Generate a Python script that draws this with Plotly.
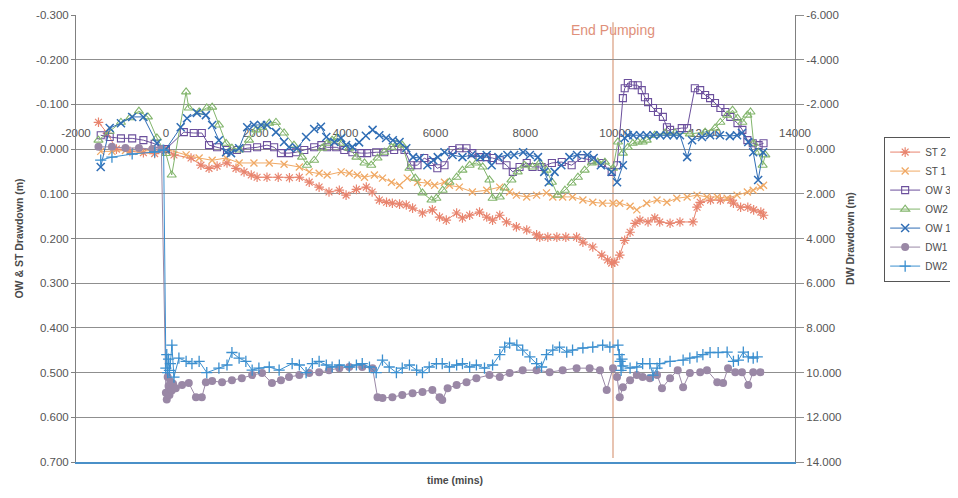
import plotly.graph_objects as go

# ---------------- data (time in minutes, drawdown in m) ----------------
ST2_T = [-1500,-1300,-1100,-800,-500,-250,0,180,560,780,960,1140,1360,1560,1740,1900,2030,2250,2500,2750,2970,3190,3410,3630,3860,4010,4240,4460,4590,4750,4910,5040,5200,5350,5490,5710,5930,6090,6240,6470,6600,6760,6980,7140,7270,7430,7580,7800,8030,8250,8320,8500,8700,8900,9140,9280,9500,9700,9830,9920,9990,10100,10210,10330,10440,10550,10730,10880,10990,11220,11440,11730,11820,11890,12120,12340,12570,12630,12790,12950,13080,13240,13300]
ST2_V = [-0.060,-0.035,0.000,0.005,0.008,0.010,0.003,0.013,0.020,0.036,0.043,0.038,0.031,0.043,0.051,0.058,0.063,0.063,0.063,0.064,0.063,0.074,0.085,0.096,0.092,0.103,0.090,0.085,0.096,0.114,0.119,0.121,0.123,0.125,0.132,0.143,0.136,0.152,0.159,0.143,0.154,0.148,0.141,0.152,0.159,0.148,0.163,0.174,0.181,0.192,0.197,0.197,0.197,0.197,0.197,0.208,0.219,0.237,0.248,0.255,0.253,0.237,0.204,0.186,0.166,0.159,0.163,0.154,0.163,0.166,0.163,0.163,0.130,0.119,0.114,0.114,0.114,0.121,0.130,0.130,0.136,0.141,0.148]

ST1_T = [-1450,-1200,-900,-600,-300,0,450,740,1030,1340,1630,1960,2300,2630,2970,3190,3410,3590,3900,4080,4260,4420,4640,4820,5020,5200,5370,5600,5820,5980,6200,6310,6530,6820,7140,7430,7650,7800,8030,8250,8470,8610,8830,9050,9280,9500,9720,9950,10100,10330,10480,10700,10930,11150,11370,11600,11820,12040,12270,12490,12710,12940,13070,13230,13300]
ST1_V = [0.005,0.005,0.003,0.005,0.003,0.000,0.013,0.020,0.025,0.020,0.031,0.031,0.031,0.034,0.040,0.051,0.054,0.058,0.051,0.054,0.058,0.063,0.058,0.065,0.074,0.081,0.065,0.074,0.076,0.081,0.074,0.081,0.085,0.096,0.092,0.085,0.096,0.103,0.107,0.103,0.098,0.107,0.107,0.107,0.114,0.119,0.121,0.121,0.121,0.128,0.136,0.121,0.114,0.119,0.110,0.107,0.103,0.107,0.107,0.110,0.103,0.096,0.092,0.085,0.081]

OW3_T = [-1450,-1250,-1000,-750,-500,-250,0,400,620,800,960,1140,1360,1580,1810,2030,2250,2410,2560,2740,2900,3080,3300,3460,3590,3790,3970,4150,4350,4480,4680,4860,5080,5310,5460,5600,5750,5910,6040,6200,6380,6530,6690,6820,6980,7140,7270,7430,7580,7720,7870,8030,8160,8360,8590,8810,9030,9250,9480,9700,9920,10040,10170,10210,10280,10390,10500,10590,10660,10730,10840,10950,11060,11150,11220,11480,11600,11770,11890,12000,12110,12220,12340,12450,12560,12720,12830,12940,13060,13190,13300]
OW3_V = [-0.031,-0.027,-0.024,-0.024,-0.020,-0.012,0.000,-0.038,-0.036,-0.036,-0.009,-0.004,0.002,0.002,-0.002,-0.004,-0.009,-0.004,0.009,0.009,0.007,0.002,-0.004,-0.009,-0.004,-0.004,0.002,0.007,0.009,0.009,0.007,0.007,0.002,0.002,0.036,0.036,0.020,0.029,0.043,0.036,0.002,-0.002,-0.002,0.009,0.018,0.018,0.020,0.025,0.036,0.051,0.040,0.031,0.040,0.040,0.031,0.029,0.036,0.020,0.025,0.031,0.051,0.036,-0.114,-0.136,-0.148,-0.143,-0.143,-0.132,-0.116,-0.105,-0.092,-0.083,-0.072,-0.049,-0.043,-0.047,-0.047,-0.136,-0.132,-0.121,-0.114,-0.103,-0.092,-0.083,-0.072,-0.058,-0.043,-0.020,-0.013,-0.009,-0.013]

OW2_T = [-1500,-1250,-1000,-800,-600,-400,-200,0,130,450,510,740,910,1030,1180,1340,1470,1630,1850,2010,2140,2300,2450,2630,2850,3030,3140,3300,3480,3590,3700,3810,3920,4080,4240,4420,4570,4710,4860,5020,5150,5260,5420,5550,5710,5910,6020,6160,6310,6470,6600,6760,6910,7050,7200,7270,7430,7540,7690,7830,7980,8160,8320,8470,8590,8720,8880,9030,9170,9320,9480,9610,9770,9950,10060,10170,10280,10390,10500,10610,10700,10880,11110,11330,11660,12000,12220,12340,12490,12610,12720,12830,12940,13010,13080,13190,13280,13340]
OW2_V = [-0.020,-0.040,-0.060,-0.070,-0.085,-0.072,-0.025,0.010,0.058,-0.128,-0.092,-0.083,-0.092,-0.094,-0.054,-0.013,-0.002,0.002,-0.020,-0.043,-0.049,-0.058,-0.060,-0.036,-0.009,0.018,0.036,0.025,-0.002,-0.013,-0.020,-0.025,-0.013,-0.002,0.018,0.031,0.036,0.020,0.007,-0.004,-0.013,-0.009,0.043,0.065,0.098,0.114,0.110,0.092,0.074,0.063,0.047,0.036,0.031,0.040,0.069,0.110,0.107,0.087,0.069,0.051,0.036,0.040,0.031,0.047,0.074,0.103,0.092,0.076,0.063,0.047,0.031,0.029,0.029,0.043,-0.016,0.009,-0.004,-0.013,-0.016,-0.016,-0.020,-0.031,-0.036,-0.036,-0.034,-0.038,-0.047,-0.060,-0.076,-0.087,-0.069,-0.060,-0.076,-0.083,-0.013,0.007,0.036,0.013]

OW1_T = [-1450,-1250,-1000,-750,-500,-200,0,330,470,690,890,1030,1180,1340,1450,1630,1810,1960,2120,2250,2450,2630,2740,2920,3120,3300,3450,3570,3750,3900,4010,4150,4300,4450,4600,4750,4900,5050,5200,5350,5500,5650,5820,5950,6050,6200,6380,6600,6800,7000,7140,7250,7400,7600,7750,7950,8100,8280,8420,8520,8650,8800,8980,9150,9380,9520,9680,9920,10040,10170,10210,10280,10400,10550,10700,10850,11000,11150,11300,11440,11600,11710,11930,12110,12330,12550,12710,12820,12960,13070,13180,13290]
OW1_V = [0.040,-0.047,-0.058,-0.072,-0.072,-0.013,0.000,-0.049,-0.069,-0.081,-0.076,-0.054,-0.020,0.007,0.009,-0.002,-0.049,-0.054,-0.054,-0.054,-0.038,-0.016,-0.004,-0.002,-0.027,-0.045,-0.050,-0.027,-0.016,-0.025,-0.009,-0.005,-0.015,-0.030,-0.043,-0.031,-0.025,-0.020,-0.016,-0.002,0.018,0.020,0.036,0.025,0.018,0.007,0.013,0.018,0.013,0.018,0.013,0.036,0.018,0.013,0.013,0.007,0.013,0.018,0.051,0.074,0.051,0.036,0.018,0.013,0.013,0.020,0.036,0.051,0.074,0.036,-0.025,-0.031,-0.031,-0.031,-0.031,-0.031,-0.031,-0.031,-0.031,-0.031,0.018,-0.020,-0.027,-0.031,-0.031,-0.029,-0.031,-0.036,-0.016,0.007,0.069,0.007]

DW1_T = [-1500,-1200,-900,-600,-300,-100,0,20,40,60,80,100,130,160,220,360,510,670,800,890,1030,1250,1470,1690,1920,2140,2360,2560,2740,2970,3190,3410,3630,3860,4080,4370,4600,4710,4820,5040,5260,5490,5710,5930,6090,6150,6270,6470,6690,6910,7200,7430,7650,7940,8250,8540,8830,9140,9430,9660,9810,9950,10040,10100,10170,10330,10480,10610,10770,10930,11040,11220,11390,11510,11660,11890,12040,12270,12400,12510,12670,12820,12960,13070,13230]
DW1_V = [-0.10,-0.10,-0.05,-0.05,0.00,0.00,10.9,11.2,10.2,10.6,11.0,10.4,10.8,10.5,10.7,10.56,10.47,11.1,11.1,10.43,10.38,10.43,10.34,10.25,10.11,10.02,10.47,10.34,10.2,10.11,10.02,9.98,9.89,9.8,9.75,9.75,9.8,11.1,11.14,11.1,11.0,10.92,10.87,10.78,11.1,11.23,10.7,10.56,10.43,10.25,10.11,10.2,10.02,9.89,9.89,9.98,9.89,9.8,9.8,9.89,10.78,9.8,10.2,11.1,10.65,10.34,10.11,10.2,10.25,10.11,10.7,10.25,9.89,10.65,10.02,9.98,9.89,10.43,10.47,9.8,9.98,9.98,10.56,9.98,9.98]

DW2_T = [-1450,-1200,-750,-250,-50,0,20,40,60,80,100,134,180,290,450,580,740,910,1180,1360,1470,1630,1780,1920,2070,2300,2520,2810,2970,3120,3260,3410,3570,3700,3860,4080,4240,4370,4530,4680,4820,4970,5130,5260,5420,5580,5710,5860,6020,6150,6310,6470,6600,6760,6910,7090,7270,7430,7540,7650,7810,7940,8100,8250,8360,8470,8610,8760,8920,9050,9280,9500,9720,9880,10060,10090,10110,10130,10150,10170,10330,10480,10610,10770,10840,10930,10990,11220,11510,11660,11820,11950,12110,12290,12490,12630,12740,12850,12960,13070,13160]
DW2_V = [0.49,0.36,0.22,0.13,0.04,9.8,9.2,10.0,9.4,9.9,9.6,8.77,10.2,9.35,9.5,9.6,9.5,10.0,9.8,9.66,9.1,9.35,9.5,9.89,9.8,9.75,9.89,9.6,9.66,10.0,9.6,9.5,9.66,9.75,9.66,9.75,9.66,9.6,9.75,10.0,9.44,9.75,10.0,9.8,9.66,9.89,10.0,9.75,9.6,9.6,9.75,9.66,9.6,9.75,9.66,9.8,9.66,9.2,8.86,8.68,8.77,8.99,9.3,9.6,9.75,9.2,8.99,8.86,9.08,8.99,8.9,8.86,8.77,8.86,8.77,9.2,9.5,9.9,9.4,9.7,9.8,9.75,9.6,9.6,10.11,9.8,9.6,9.5,9.44,9.35,9.3,9.2,9.1,9.1,9.08,9.5,9.44,9.08,9.3,9.35,9.3]

END_PUMPING_TIME = 9950

X_TICKS = [-2000, 0, 2000, 4000, 6000, 8000, 10000, 12000, 14000]
X_LABELS = ["-2000", "0", "2000", "4000", "6000", "8000", "10000", "12000", "14000"]
LEFT_TICKS = [-0.3, -0.2, -0.1, 0.0, 0.1, 0.2, 0.3, 0.4, 0.5, 0.6, 0.7]
LEFT_LABELS = ["-0.300", "-0.200", "-0.100", "0.000", "0.100", "0.200", "0.300", "0.400", "0.500", "0.600", "0.700"]
RIGHT_TICKS = [-6, -4, -2, 0, 2, 4, 6, 8, 10, 12, 14]
RIGHT_LABELS = ["-6.000", "-4.000", "-2.000", "0.000", "2.000", "4.000", "6.000", "8.000", "10.000", "12.000", "14.000"]

for a, b in [(ST2_T, ST2_V), (ST1_T, ST1_V), (OW3_T, OW3_V), (OW2_T, OW2_V),
             (OW1_T, OW1_V), (DW1_T, DW1_V), (DW2_T, DW2_V)]:
    assert len(a) == len(b), (len(a), len(b))

FONT = "Liberation Sans, Arial, sans-serif"
TXT = "#4a4a4a"

series = [
    ("ST 2", ST2_T, ST2_V, "y", "#e8846e", "asterisk-open", 8, 1.2),
    ("ST 1", ST1_T, ST1_V, "y", "#f0a965", "x-thin-open", 7, 1.3),
    ("OW 3", OW3_T, OW3_V, "y", "#6b4f9c", "square-open", 7, 1.1),
    ("OW2", OW2_T, OW2_V, "y", "#82b56c", "triangle-up-open", 8, 1.1),
    ("OW 1", OW1_T, OW1_V, "y", "#2f6db5", "x-thin-open", 8, 1.5),
    ("DW1", DW1_T, DW1_V, "y2", "#9a88a6", "circle", 8, 0),
    ("DW2", DW2_T, DW2_V, "y2", "#3b8fcf", "cross-thin-open", 8, 1.3),
]

fig = go.Figure()
for name, t, v, yax, col, sym, size, lw in series:
    fig.add_trace(go.Scatter(
        x=t, y=v, name=name, yaxis=yax, mode="lines+markers",
        line=dict(color=col, width=1),
        marker=dict(symbol=sym, size=size, color=col,
                    line=dict(color=col, width=lw)),
    ))

# dummy trace so the floating time axis (at zero drawdown) is drawn
fig.add_trace(go.Scatter(x=[None], y=[None], xaxis="x2", yaxis="y",
                         showlegend=False, hoverinfo="skip"))

fig.add_shape(type="line", xref="x", yref="y",
              x0=END_PUMPING_TIME, x1=END_PUMPING_TIME, y0=-0.284, y1=0.691,
              line=dict(color="#dca487", width=1.3), layer="below")

fig.add_annotation(x=END_PUMPING_TIME, y=-0.266, xref="x", yref="y",
                   text="End Pumping", showarrow=False,
                   font=dict(size=14, color="#e0907a", family=FONT))
fig.add_annotation(x=0.527, y=-0.058, xref="paper", yref="paper",
                   text="<b>time (mins)</b>", showarrow=False,
                   font=dict(size=10.5, color=TXT, family=FONT))

fig.update_layout(
    width=958, height=490,
    margin=dict(l=68, r=171, t=7, b=36, autoexpand=False),
    paper_bgcolor="white", plot_bgcolor="white",
    font=dict(family=FONT, color=TXT, size=11),
    showlegend=True,
    legend=dict(x=1.124, y=0.728, xanchor="left", yanchor="top",
                bordercolor="#555555", borderwidth=1, bgcolor="white",
                font=dict(size=10, color=TXT), itemwidth=30, tracegroupgap=0),
    xaxis=dict(range=[-2000, 14000], showgrid=False, zeroline=False,
               showticklabels=False, ticks="", showline=True,
               linecolor="#4a90c8", linewidth=1.5),
    xaxis2=dict(range=[-2000, 14000], overlaying="x", anchor="free",
                position=0.7, side="top", tickvals=X_TICKS, ticktext=X_LABELS,
                showgrid=False, zeroline=False, showline=False, ticks="",
                ticklabelstandoff=10, layer="below traces",
                tickfont=dict(size=11.5, color="#555555", family=FONT)),
    yaxis=dict(range=[0.7, -0.3], tickvals=LEFT_TICKS, ticktext=LEFT_LABELS,
               showgrid=True, gridcolor="#8f8f8f", gridwidth=1,
               zeroline=False, showline=True, linecolor="#808080",
               ticks="outside", ticklen=4, tickcolor="#808080",
               tickfont=dict(size=11.5, color="#555555", family=FONT),
               title=dict(text="<b>OW & ST Drawdown (m)</b>", standoff=10,
                          font=dict(size=10.5, color=TXT, family=FONT))),
    yaxis2=dict(range=[14, -6], overlaying="y", side="right",
                tickvals=RIGHT_TICKS, ticktext=RIGHT_LABELS,
                showgrid=False, zeroline=False, showline=True,
                linecolor="#808080", ticks="outside", ticklen=8,
                tickcolor="#8f8f8f",
                tickfont=dict(size=11.5, color="#555555", family=FONT),
                title=dict(text="<b>DW Drawdown (m)</b>", standoff=6,
                           font=dict(size=10.5, color=TXT, family=FONT))),
)

fig.write_html("out.html")
